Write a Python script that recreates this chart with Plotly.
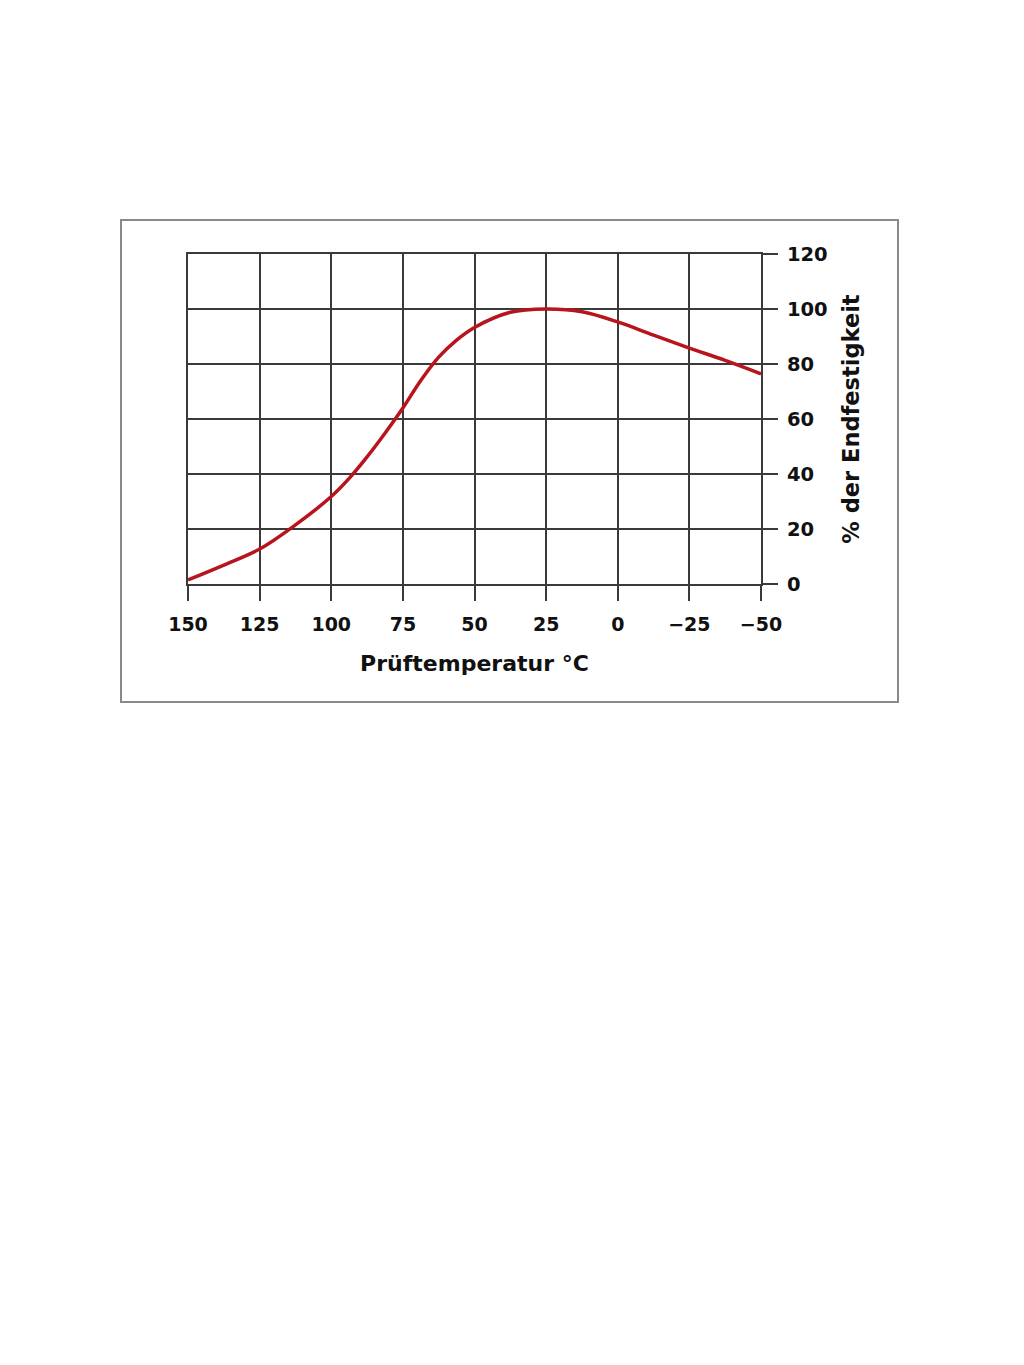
import plotly.graph_objects as go

temperature = [150, 137.5, 125, 112.5, 100, 93.75, 87.5, 81.25, 75, 68.75, 62.5, 56.25, 50, 37.5, 25, 12.5, 0, -12.5, -25, -37.5, -50]
strength_pct = [1.5, 6.9, 12.7, 21.5, 31.8, 38.4, 46.2, 54.8, 64, 74.0, 82.5, 88.7, 93.3, 98.8, 100, 99, 95.3, 90.5, 85.8, 81.3, 76.4]
x_ticks = [150, 125, 100, 75, 50, 25, 0, -25, -50]
y_ticks = [0, 20, 40, 60, 80, 100, 120]

grid_col = "#3a3a3a"
font_fam = "DejaVu Sans, Liberation Sans, sans-serif"

fig = go.Figure()
fig.add_trace(go.Scatter(
    x=temperature, y=strength_pct, mode="lines",
    line=dict(color="#b8141d", width=3.5, shape="spline", smoothing=1.0),
    showlegend=False, hoverinfo="skip"))

OX, OY = 7, 6  # page offset of the figure
L, R, T, B = 187 - OX, 760 - OX, 252 - OY, 582 - OY
W, H = 1024, 1365

fig.update_layout(
    width=W, height=H,
    margin=dict(l=L, r=W - R, t=T, b=H - B, pad=0),
    paper_bgcolor="white", plot_bgcolor="white",
    font=dict(family=font_fam, color="#111", size=19),
    xaxis=dict(
        range=[150, -50], tickvals=x_ticks,
        showgrid=True, gridcolor=grid_col, gridwidth=2,
        showline=True, linecolor=grid_col, linewidth=2, mirror=True,
        ticks="outside", ticklen=15, tickwidth=2, tickcolor=grid_col,
        ticklabelstandoff=7,
        tickfont=dict(size=19, weight="bold", family=font_fam),
        title=dict(text="Prüftemperatur °C", font=dict(size=22, weight="bold", family=font_fam), standoff=22),
        zeroline=False,
    ),
    yaxis=dict(
        range=[0, 120], tickvals=y_ticks, side="right",
        showgrid=True, gridcolor=grid_col, gridwidth=2,
        showline=True, linecolor=grid_col, linewidth=2, mirror=True,
        ticks="outside", ticklen=15, tickwidth=2, tickcolor=grid_col,
        ticklabelstandoff=5,
        tickfont=dict(size=19.5, weight="bold", family=font_fam),
        title=dict(text="% der Endfestigkeit", font=dict(size=22.5, weight="bold", family=font_fam), standoff=17),
        zeroline=False,
    ),
)

pw, ph = R - L, B - T
fig.add_shape(type="rect", xref="paper", yref="paper",
              x0=(120 - OX - L) / pw, x1=(897 - OX - L) / pw,
              y0=-(700 - OY - B) / ph, y1=1 + (T - (218 - OY)) / ph,
              line=dict(color="#8a8a8a", width=2), fillcolor="rgba(0,0,0,0)", layer="below")

fig.write_html("out.html")
